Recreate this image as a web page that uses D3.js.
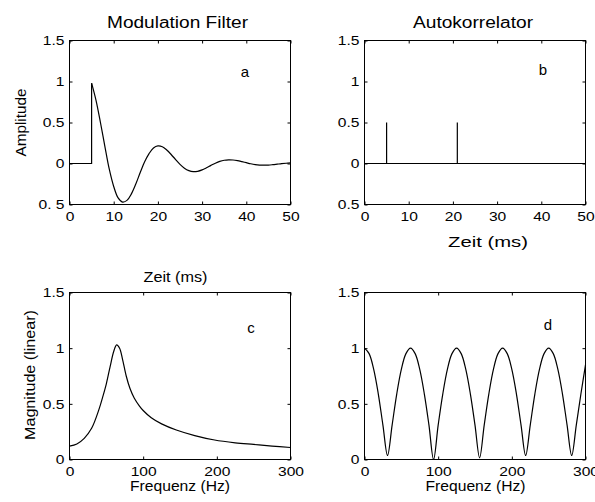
<!DOCTYPE html>
<html>
<head>
<meta charset="utf-8">
<script src="https://cdn.jsdelivr.net/npm/d3@7"></script>
<style>
  body { margin: 0; background: #fff; }
  svg { display: block; font-family: "Liberation Sans", Arial, Helvetica, sans-serif; }
</style>
</head>
<body>
<script>
// panel a: modulation filter impulse response
const modTime = [0, 5, 5, 6, 7, 8, 9, 10, 11, 12, 13, 14, 15, 16, 17, 18, 19, 20, 21, 22, 23, 24, 25,
  26, 27, 28, 29, 30, 31, 32, 33, 34, 35, 36, 37, 38, 39, 40, 41, 42, 43, 44, 45, 46, 47, 48, 49, 50];
const modAmp = [0, 0, 0.98, 0.77, 0.50, 0.21, -0.07, -0.28, -0.42, -0.47, -0.45, -0.37, -0.25, -0.11,
  0.02, 0.12, 0.19, 0.215, 0.205, 0.165, 0.11, 0.048, -0.01, -0.057, -0.087, -0.10, -0.095, -0.078,
  -0.052, -0.023, 0.004, 0.026, 0.04, 0.045, 0.043, 0.035, 0.023, 0.01, -0.003, -0.013, -0.019,
  -0.021, -0.019, -0.014, -0.008, -0.002, 0.003, 0.007];

// panel b: autocorrelator
const acTime = [0, 5, 5, 5, 21, 21, 21, 50];
const acVal = [0, 0, 0.5, 0, 0, 0.5, 0, 0];

// panel c: filter magnitude
const filtFreq = [0, 10, 20, 30, 40, 45, 50, 55, 60, 64, 68, 72, 77, 82, 88, 95, 100, 111, 125, 145,
  170, 197, 225, 250, 275, 300];
const filtMag = [0.12, 0.14, 0.19, 0.28, 0.45, 0.56, 0.68, 0.83, 0.97, 1.03, 1.00, 0.90, 0.75, 0.64,
  0.55, 0.48, 0.44, 0.375, 0.32, 0.265, 0.215, 0.175, 0.15, 0.135, 0.12, 0.108];

// panel d: autocorrelator magnitude
const combFreq = [0, 6.25, 12.5, 18.75, 25, 31.25, 37.5, 43.75, 50, 56.25, 62.5, 68.75, 75, 81.25,
  87.5, 93.75, 100, 106.25, 112.5, 118.75, 125, 131.25, 137.5, 143.75, 150, 156.25, 162.5, 168.75,
  175, 181.25, 187.5, 193.75, 200, 206.25, 212.5, 218.75, 225, 231.25, 237.5, 243.75, 250, 256.25,
  262.5, 268.75, 275, 281.25, 287.5, 293.75, 300];
const combMag = [1, 0.951, 0.809, 0.588, 0.309, 0.036, 0.309, 0.588, 0.809, 0.951,
  1, 0.951, 0.809, 0.588, 0.309, 0.0, 0.309, 0.588, 0.809, 0.951,
  1, 0.951, 0.809, 0.588, 0.309, 0.015, 0.309, 0.588, 0.809, 0.951,
  1, 0.951, 0.809, 0.588, 0.309, 0.036, 0.309, 0.588, 0.809, 0.951,
  1, 0.951, 0.809, 0.588, 0.309, 0.036, 0.309, 0.588, 0.85];

const timeTicks = [0, 10, 20, 30, 40, 50];
const ampTicks = [-0.5, 0, 0.5, 1, 1.5];
const ampLabelsA = ["0. 5", "0", "0.5", "1", "1.5"];
const ampLabelsB = ["0.5", "0", "0.5", "1", "1.5"];
const freqTicks = [0, 100, 200, 300];
const magTicks = [0, 0.5, 1, 1.5];
const magLabels = ["0", "0.5", "1", "1.5"];

const width = 595, height = 502;

const svg = d3.select("body").append("svg")
    .attr("width", width)
    .attr("height", height);

svg.append("rect").attr("width", width).attr("height", height).attr("fill", "#fff");

// widen tick labels a bit, the original font runs wide
function widen(sel, k) {
  sel.each(function() {
    const t = d3.select(this);
    const x = +t.attr("x") || 0, y = +t.attr("y") || 0;
    t.attr("x", 0).attr("y", 0)
      .attr("transform", "translate(" + x + "," + y + ") scale(" + k + ",1)");
  });
}

function panel(p) {
  const x = d3.scaleLinear().domain(p.xDomain).range([p.left, p.right]);
  const y = d3.scaleLinear().domain(p.yDomain).range([p.bottom, p.top]);

  const bottomAxis = d3.axisBottom(x).tickValues(p.xTicks)
      .tickSizeInner(-3).tickSizeOuter(0).tickPadding(7);
  const leftAxis = d3.axisLeft(y).tickValues(p.yTicks)
      .tickSizeInner(-3).tickSizeOuter(0).tickPadding(5)
      .tickFormat((d, i) => p.yLabels[i]);
  const topAxis = d3.axisTop(x).tickValues(p.xTicks)
      .tickSizeInner(-3).tickSizeOuter(0).tickFormat("");
  const rightAxis = d3.axisRight(y).tickValues(p.yTicks)
      .tickSizeInner(-3).tickSizeOuter(0).tickFormat("");

  const gb = svg.append("g")
      .attr("transform", "translate(0," + p.bottom + ")")
      .call(bottomAxis);
  const gl = svg.append("g")
      .attr("transform", "translate(" + p.left + ",0)")
      .call(leftAxis);
  svg.append("g").attr("transform", "translate(0," + p.top + ")").call(topAxis);
  svg.append("g").attr("transform", "translate(" + p.right + ",0)").call(rightAxis);

  svg.selectAll(".domain").remove();
  [gb, gl].forEach(g => g.attr("font-size", 13)
      .attr("font-family", "Liberation Sans, Arial, sans-serif"));
  svg.selectAll(".tick line").attr("stroke", "#000");
  svg.selectAll(".tick text").attr("fill", "#000");
  widen(gb.selectAll("text"), 1.2);
  widen(gl.selectAll("text"), 1.2);

  svg.append("rect")
      .attr("x", p.left).attr("y", p.top)
      .attr("width", p.right - p.left).attr("height", p.bottom - p.top)
      .attr("fill", "none").attr("stroke", "#000").attr("stroke-width", 1);

  return { x: x, y: y };
}

function addText(x, y, txt, size, len, rot) {
  const t = svg.append("text")
      .attr("transform", "translate(" + x + "," + y + ")" + (rot ? " rotate(-90)" : ""))
      .attr("text-anchor", "middle")
      .attr("font-size", size)
      .attr("fill", "#000")
      .text(txt);
  if (len) t.attr("textLength", len).attr("lengthAdjust", "spacingAndGlyphs");
  return t;
}

function drawLine(s, xs, ys, curve) {
  const pts = xs.map((d, i) => [d, ys[i]]);
  const line = d3.line()
      .x(d => s.x(d[0]))
      .y(d => s.y(d[1]))
      .curve(curve);
  svg.append("path")
      .datum(pts)
      .attr("d", line)
      .attr("fill", "none")
      .attr("stroke", "#000")
      .attr("stroke-width", 1.2);
}

// a
const pa = panel({ left: 69.5, right: 290.5, top: 40.5, bottom: 204.5,
  xDomain: [0, 50], yDomain: [-0.5, 1.5], xTicks: timeTicks, yTicks: ampTicks, yLabels: ampLabelsA });
drawLine(pa, modTime.slice(0, 3), modAmp.slice(0, 3), d3.curveLinear);
drawLine(pa, modTime.slice(2), modAmp.slice(2), d3.curveCatmullRom);

// b
const pb = panel({ left: 364.5, right: 585.5, top: 40.5, bottom: 204.5,
  xDomain: [0, 50], yDomain: [-0.5, 1.5], xTicks: timeTicks, yTicks: ampTicks, yLabels: ampLabelsB });
drawLine(pb, acTime, acVal, d3.curveLinear);

// c
const pc = panel({ left: 69.5, right: 290.5, top: 292.5, bottom: 459.5,
  xDomain: [0, 300], yDomain: [0, 1.5], xTicks: freqTicks, yTicks: magTicks, yLabels: magLabels });
drawLine(pc, filtFreq, filtMag, d3.curveCatmullRom);

// d
const pd = panel({ left: 364.5, right: 585.5, top: 292.5, bottom: 459.5,
  xDomain: [0, 300], yDomain: [0, 1.5], xTicks: freqTicks, yTicks: magTicks, yLabels: magLabels });
drawLine(pd, combFreq, combMag, d3.curveCatmullRom);

// titles and labels
addText(177.5, 28, "Modulation Filter", 16, 141);
addText(473, 28, "Autokorrelator", 16, 120);
addText(488, 247, "Zeit (ms)", 15, 80);
addText(175.5, 282, "Zeit (ms)", 14, 64);
addText(180, 491, "Frequenz (Hz)", 15, 100);
addText(475.5, 491, "Frequenz (Hz)", 15, 100);
addText(25.5, 122.5, "Amplitude", 15, 68, true);
addText(34.5, 375, "Magnitude (linear)", 15, 130, true);

addText(245, 77, "a", 15);
addText(543, 75, "b", 15);
addText(251, 333, "c", 15);
addText(548, 330, "d", 15);
</script>
</body>
</html>
